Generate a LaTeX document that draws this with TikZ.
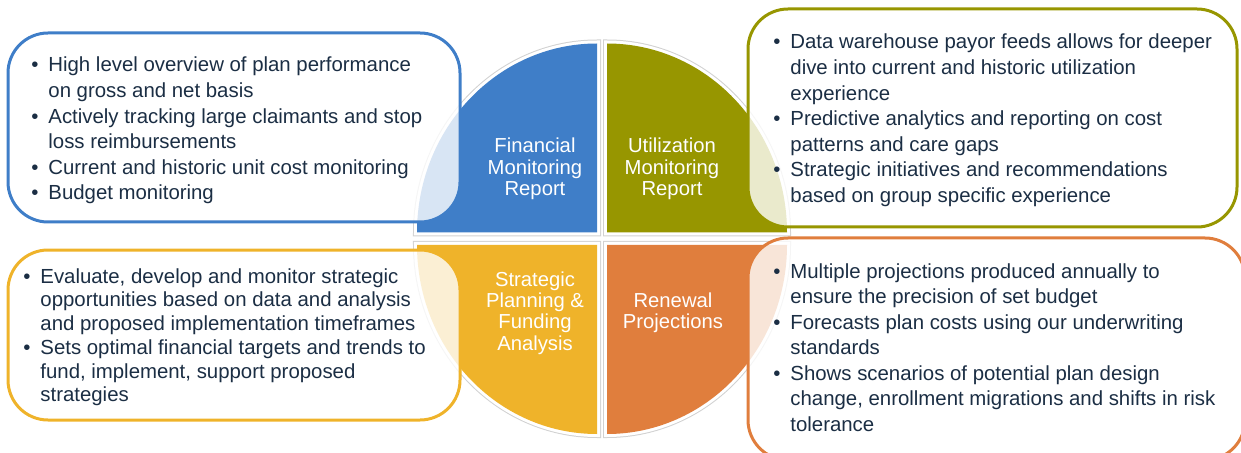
\documentclass[tikz,border=0pt]{standalone}
\usepackage{fontspec}
\setmainfont{Liberation Sans}
\usetikzlibrary{positioning}

\definecolor{finblue}{HTML}{3F7EC8}
\definecolor{utilolive}{HTML}{979600}
\definecolor{stratgold}{HTML}{EFB32A}
\definecolor{renorange}{HTML}{E07E3D}
\definecolor{navy}{HTML}{1B2E44}

\newcommand{\itemfont}{\fontsize{14.5}{18.2}\selectfont}
\newcommand{\labelfont}{\fontsize{14.4}{15.2}\selectfont}

\begin{document}
\begin{tikzpicture}[x=0.25mm,y=0.25mm,
	quarter/.style={fill=#1,
		preaction={draw=black!18,line width=2mm},
		preaction={draw=white,line width=1.5mm}},
	card/.style={draw=#1,fill=white,fill opacity=0.8,line width=0.75mm,rounded corners=10mm},
	quad/.style={text=white,font=\labelfont,inner sep=0pt,anchor=base},
	items/.style={text=navy,font=\itemfont,inner sep=0pt,anchor=base west}]
	\useasboundingbox (0,0) rectangle (1241,452);
	\clip (0,0) rectangle (1241,452);

	% four quarter discs
	\path[quarter=finblue] (597,219.5) -- (417,219.5) arc[start angle=180,end angle=90,x radius=180,y radius=189] -- cycle;
	\path[quarter=utilolive] (607,219.5) -- (607,408.5) arc[start angle=90,end angle=0,x radius=180,y radius=189] -- cycle;
	\path[quarter=stratgold] (597,207) -- (597,18) arc[start angle=270,end angle=180,x radius=180,y radius=189] -- cycle;
	\path[quarter=renorange] (607,207) -- (787,207) arc[start angle=0,end angle=-90,x radius=180,y radius=189] -- cycle;

	\node[quad] (fin) at (535,299) {\begin{tabular}[t]{@{}c@{}}Financial\\Monitoring\\Report\end{tabular}};
	\node[quad] (util) at (672,299) {\begin{tabular}[t]{@{}c@{}}Utilization\\Monitoring\\Report\end{tabular}};
	\node[quad] (strat) at (535,166) {\begin{tabular}[t]{@{}c@{}}\fontsize{14.4}{15.6}\selectfont Strategic\\Planning \&\\Funding\\Analysis\end{tabular}};
	\node[quad] (renew) at (673,145) {\begin{tabular}[t]{@{}c@{}}Renewal\\Projections\end{tabular}};

	% rounded cards
	\draw[card=finblue] (8,230) rectangle (460,419);
	\draw[card=utilolive] (748,225) rectangle (1237,443);
	\draw[card=stratgold] (8,32) rectangle (460,202);
	\draw[card=renorange] (748,-8) rectangle (1245,214);

	\node[items] (fintxt) at (31,380) {\begin{tabular}[t]{@{}l@{\hspace{2.5mm}}l@{}}
		\textbullet & High level overview of plan performance\\
		& on gross and net basis\\
		\textbullet & Actively tracking large claimants and stop\\
		& loss reimbursements\\
		\textbullet & Current and historic unit cost monitoring\\
		\textbullet & Budget monitoring
	\end{tabular}};

	\node[items] (utiltxt) at (773,403) {\begin{tabular}[t]{@{}l@{\hspace{2.5mm}}l@{}}
		\textbullet & Data warehouse payor feeds allows for deeper\\
		& dive into current and historic utilization\\
		& experience\\
		\textbullet & Predictive analytics and reporting on cost\\
		& patterns and care gaps\\
		\textbullet & Strategic initiatives and recommendations\\
		& based on group specific experience
	\end{tabular}};

	\node[items,font=\fontsize{14.5}{16.9}\selectfont] (strattxt) at (23,169) {\begin{tabular}[t]{@{}l@{\hspace{2.5mm}}l@{}}
		\textbullet & Evaluate, develop and monitor strategic\\
		& opportunities based on data and analysis\\
		& and proposed implementation timeframes\\
		\textbullet & Sets optimal financial targets and trends to\\
		& fund, implement, support proposed\\
		& strategies
	\end{tabular}};

	\node[items] (renewtxt) at (773,174) {\begin{tabular}[t]{@{}l@{\hspace{2.5mm}}l@{}}
		\textbullet & Multiple projections produced annually to\\
		& ensure the precision of set budget\\
		\textbullet & Forecasts plan costs using our underwriting\\
		& standards\\
		\textbullet & Shows scenarios of potential plan design\\
		& change, enrollment migrations and shifts in risk\\
		& tolerance
	\end{tabular}};
\end{tikzpicture}
\end{document}
